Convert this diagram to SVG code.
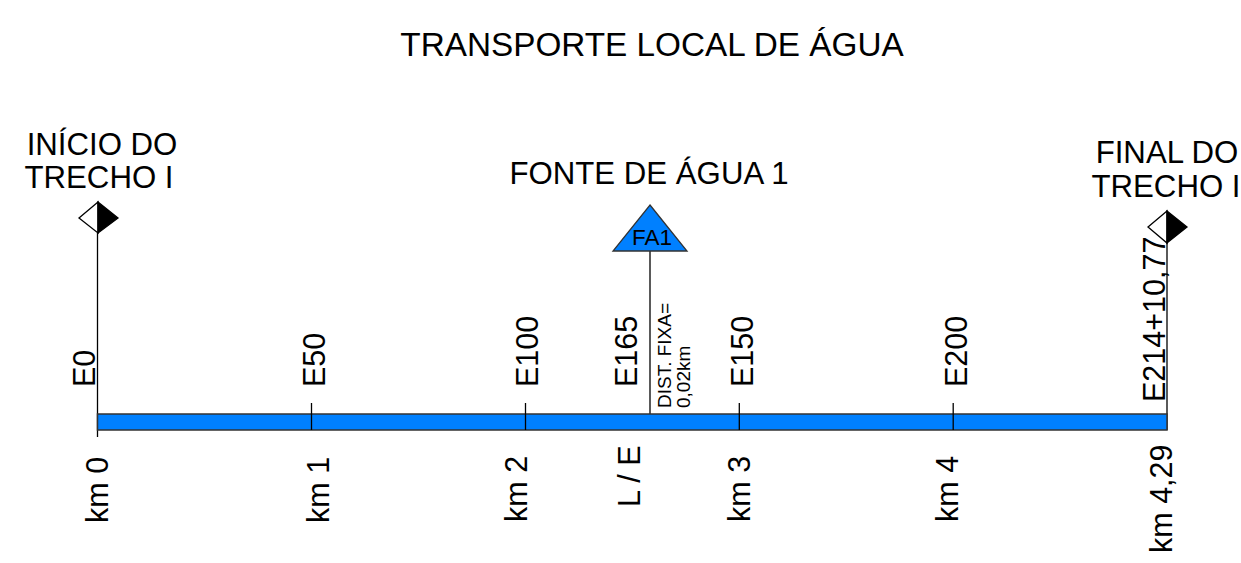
<svg xmlns="http://www.w3.org/2000/svg" width="1241" height="563" viewBox="0 0 1241 563">
<style>
text{font-family:"Liberation Sans",Arial,sans-serif;fill:#000}
.t{font-size:31.2px}
.v{font-size:30.5px}
.s{font-size:19px}
.ln{stroke:#000;stroke-width:1.3;fill:none}
.bar{fill:#0080ff;stroke:#333;stroke-width:1.5}
</style>
<rect width="1241" height="563" fill="#fff"/>
<g id="title"><text x="652" y="56" text-anchor="middle" style="font-size:33.3px">TRANSPORTE LOCAL DE ÁGUA</text></g>
<g id="connectors">
<line class="ln" x1="97.5" y1="233" x2="97.5" y2="437"/>
<line class="ln" x1="1167" y1="243" x2="1167" y2="430"/>
<line class="ln" x1="650" y1="251" x2="650" y2="422"/>
</g>
<g id="bar">
<rect class="bar" x="97.5" y="414" width="1069.5" height="16"/>
<line class="ln" x1="311.5" y1="403" x2="311.5" y2="430"/>
<line class="ln" x1="525.5" y1="403" x2="525.5" y2="430"/>
<line class="ln" x1="739.3" y1="403" x2="739.3" y2="430"/>
<line class="ln" x1="953.2" y1="403" x2="953.2" y2="430"/>
</g>
<g id="inicio">
<path d="M98,202 L79,218 L98,233 Z" fill="#fff" stroke="#000" stroke-width="1.3"/>
<path d="M98,202 L118,218 L98,233 Z" fill="#000" stroke="#000" stroke-width="1.3"/>
<text class="t" x="102" y="155" text-anchor="middle">INÍCIO DO</text>
<text class="t" x="99" y="188" text-anchor="middle">TRECHO I</text>
</g>
<g id="final">
<path d="M1167,211 L1148,227 L1167,243 Z" fill="#fff" stroke="#000" stroke-width="1.3"/>
<path d="M1167,211 L1187,227 L1167,243 Z" fill="#000" stroke="#000" stroke-width="1.3"/>
<text class="t" x="1167" y="163" text-anchor="middle">FINAL DO</text>
<text class="t" x="1166" y="197" text-anchor="middle">TRECHO I</text>
</g>
<g id="fa1">
<path d="M650,205 L687,251 L613,251 Z" fill="#0080ff" stroke="#333" stroke-width="1.3"/>
<text x="652" y="245" text-anchor="middle" style="font-size:22.5px">FA1</text>
<text class="t" x="649" y="184" text-anchor="middle">FONTE DE ÁGUA 1</text>
<text class="s" transform="translate(671,408) rotate(-90)">DIST. FIXA=</text>
<text class="s" transform="translate(690,408) rotate(-90)">0,02km</text>
</g>
<g id="estacas">
<text class="v" transform="translate(95,387) rotate(-90)">E0</text>
<text class="v" transform="translate(325,387) rotate(-90)">E50</text>
<text class="v" transform="translate(538,387) rotate(-90)">E100</text>
<text class="v" transform="translate(637,387) rotate(-90)">E165</text>
<text class="v" transform="translate(753,387) rotate(-90)">E150</text>
<text class="v" transform="translate(967,387) rotate(-90)">E200</text>
<text class="v" transform="translate(1165,402) rotate(-90)">E214+10,77</text>
</g>
<g id="km">
<text class="v" transform="translate(108,523) rotate(-90)">km 0</text>
<text class="v" transform="translate(329,523) rotate(-90)">km 1</text>
<text class="v" transform="translate(527,522) rotate(-90)">km 2</text>
<text class="v" transform="translate(640,507) rotate(-90)">L / E</text>
<text class="v" transform="translate(750,522) rotate(-90)">km 3</text>
<text class="v" transform="translate(958,522) rotate(-90)">km 4</text>
<text class="v" transform="translate(1172,553) rotate(-90)">km 4,29</text>
</g>
</svg>
